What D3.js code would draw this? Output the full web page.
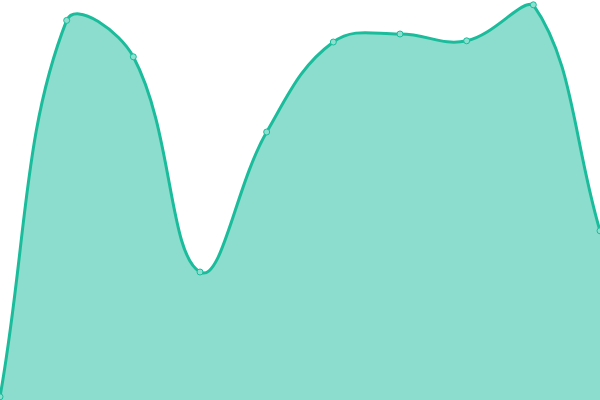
<!DOCTYPE html>
<html>
<head>
<meta charset="utf-8">
<script src="https://cdn.jsdelivr.net/npm/d3@7.9.0/dist/d3.min.js"></script>
<style>
  html, body { margin: 0; padding: 0; background: #fff; }
  svg { display: block; }
</style>
</head>
<body>
<svg width="600" height="400"></svg>
<script>
const indices = [0, 1, 2, 3, 4, 5, 6, 7, 8, 9];
const values = [0.8, 94.9, 85.8, 32, 67, 89.5, 91.5, 89.8, 98.8, 42.3];

const width = 600, height = 400;
const svg = d3.select('svg');

let x = d3.scaleLinear().domain([0, indices.length - 1]).range([0, width]);
let y = d3.scaleLinear().domain([0, 100]).range([height, 0]);

let data = indices.map((i) => ({ i: i, v: values[i] }));

// distance-weighted spline (tension 0.4), control points kept inside the plot
function splineCurve(tension) {
  function Spline(context) { this._context = context; }
  Spline.prototype = {
    areaStart() { this._line = 0; },
    areaEnd() { this._line = NaN; },
    lineStart() { this._pts = []; },
    point(px, py) { this._pts.push([+px, +py]); },
    lineEnd() {
      let p = this._pts, ctx = this._context, n = p.length;
      if (n) {
        this._line ? ctx.lineTo(p[0][0], p[0][1]) : ctx.moveTo(p[0][0], p[0][1]);
        let cps = p.map((cur, k) => {
          let prev = p[k - 1] || cur, next = p[k + 1] || cur;
          let d01 = Math.hypot(cur[0] - prev[0], cur[1] - prev[1]);
          let d12 = Math.hypot(next[0] - cur[0], next[1] - cur[1]);
          let s01 = d01 / (d01 + d12) || 0, s12 = d12 / (d01 + d12) || 0;
          let fa = tension * s01, fb = tension * s12;
          let cap = (q) => [Math.max(0, Math.min(width, q[0])), Math.max(0, Math.min(height, q[1]))];
          return {
            prev: cap([cur[0] - fa * (next[0] - prev[0]), cur[1] - fa * (next[1] - prev[1])]),
            next: cap([cur[0] + fb * (next[0] - prev[0]), cur[1] + fb * (next[1] - prev[1])])
          };
        });
        for (let k = 1; k < n; k++) {
          let a = cps[k - 1].next, b = cps[k].prev;
          ctx.bezierCurveTo(a[0], a[1], b[0], b[1], p[k][0], p[k][1]);
        }
      }
      if (this._line || (this._line !== 0 && n === 1)) ctx.closePath();
      this._line = 1 - this._line;
    }
  };
  return (context) => new Spline(context);
}

let curve = splineCurve(0.4);

let area = d3.area()
  .x((d) => x(d.i))
  .y0(height)
  .y1((d) => y(d.v))
  .curve(curve);

let line = d3.line()
  .x((d) => x(d.i))
  .y((d) => y(d.v))
  .curve(curve);

svg.append('path')
  .datum(data)
  .attr('d', area)
  .attr('fill', '#1abc9c')
  .attr('fill-opacity', 0.5);

svg.append('path')
  .datum(data)
  .attr('d', line)
  .attr('fill', 'none')
  .attr('stroke', '#1abc9c')
  .attr('stroke-width', 3);

svg.selectAll('circle')
  .data(data)
  .join('circle')
  .attr('cx', (d) => x(d.i))
  .attr('cy', (d) => y(d.v))
  .attr('r', 3)
  .attr('fill', '#8de0cf')
  .attr('stroke', '#1abc9c')
  .attr('stroke-width', 1);
</script>
</body>
</html>
